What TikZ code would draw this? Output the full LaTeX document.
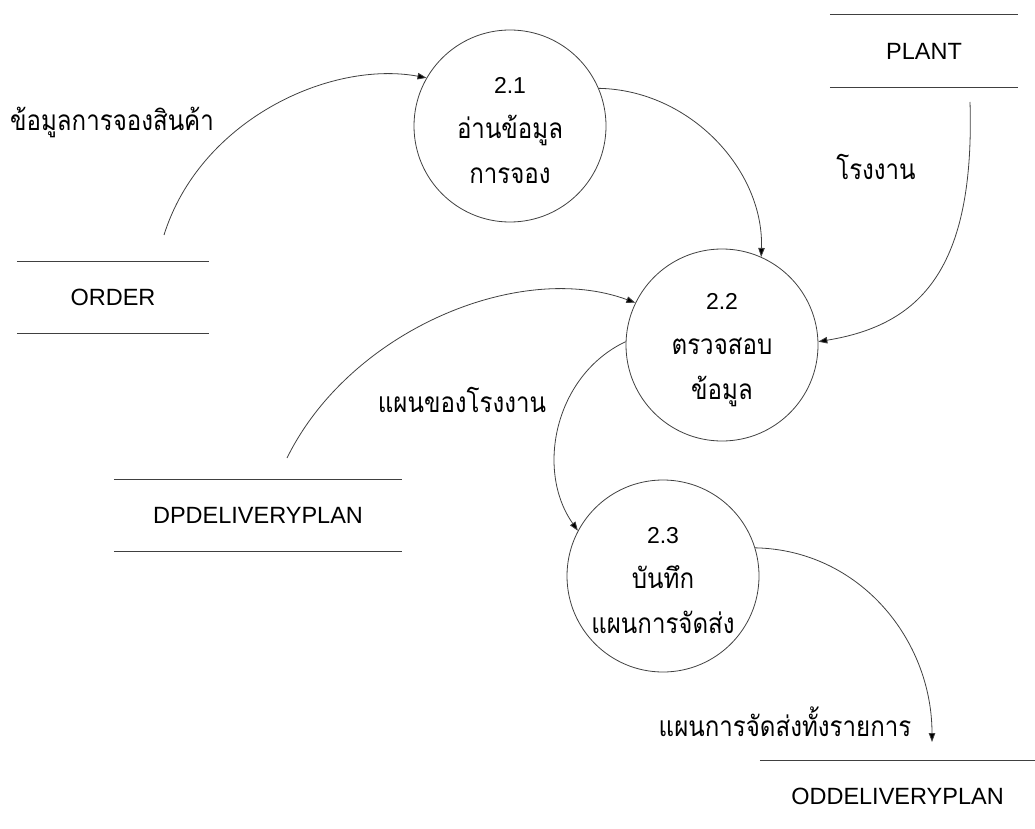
\documentclass[tikz,border=0pt]{standalone}
\usepackage{fontspec}
\usepackage{graphicx}
\setmainfont{Liberation Sans}
\newfontfamily\thai[Script=Thai]{Loma}
\usetikzlibrary{arrows.meta}
% Thai text, set a little narrower than the font's natural width
\newcommand\thtext[1]{\scalebox{0.86}[1]{\thai\fontsize{28}{32}\selectfont #1}}

\begin{document}
\begin{tikzpicture}[x=1pt,y=-1pt,
  flow/.style={draw=black!75, line width=0.8pt, -{Triangle[length=9pt,width=6.5pt,fill=black]}},
  proc/.style={circle, draw=black!75, line width=0.8pt, minimum size=192pt,
    inner sep=0pt, align=center, font=\fontsize{23}{45}\selectfont},
  store/.style={minimum height=72pt, inner sep=0pt, font=\fontsize{23.5}{28}\selectfont},
  storeline/.style={draw=black!75, line width=0.8pt},
  lbl/.style={inner sep=0pt},
]
\useasboundingbox (0,0) rectangle (1035,829);
\clip (0,0) rectangle (1035,829);

% processes
\node[proc] (p1) at (510,126) {\rule{0pt}{26pt}2.1\\\thtext{อ่านข้อมูล}\\\thtext{การจอง}};
\node[proc] (p2) at (722,345) {\rule{0pt}{26pt}2.2\\\thtext{ตรวจสอบ}\\\thtext{ข้อมูล}};
\node[proc] (p3) at (663,576) {\rule{0pt}{26pt}2.3\\\thtext{บันทึก}\\\thtext{แผนการจัดส่ง}};

% data stores
\node[store, minimum width=192pt] (order) at (113,297.5) {ORDER};
\node[store, minimum width=188pt] (plant) at (924,51) {PLANT};
\node[store, minimum width=288pt] (dp) at (258,515.5) {DPDELIVERYPLAN};
\node[store, minimum width=275pt] (od) at (897.5,796.5) {ODDELIVERYPLAN};
\foreach \s in {order,plant,dp,od}{
  \draw[storeline] (\s.north west) -- (\s.north east);
  \draw[storeline] (\s.south west) -- (\s.south east);
}

% flow end points next to the stores
\coordinate (orderout) at (164,235);
\coordinate (plantout) at (970,102);
\coordinate (dpout) at (287,458);
\coordinate (odin) at (932,742);

% data flows
\draw[flow] (orderout) .. controls (200,120) and (330,60) .. (p1.150);
\draw[flow] (p1.23) .. controls (690,90) and (764,170) .. (p2.66);
\draw[flow] (plantout) .. controls (975,270) and (920,325) .. (p2.2);
\draw[flow] (dpout) .. controls (350,330) and (520,260) .. (p2.154);
\draw[flow] (p2.178) .. controls (555,375) and (535,470) .. (p3.152);
\draw[flow] (p3.17) .. controls (860,550) and (932,640) .. (odin);

% flow labels
\node[lbl] (l1) at (112,122) {\thtext{ข้อมูลการจองสินค้า}};
\node[lbl] (l2) at (876,167) {\thtext{โรงงาน}};
\node[lbl] (l3) at (462,400) {\thtext{แผนของโรงงาน}};
\node[lbl] (l4) at (785,722) {\thtext{แผนการจัดส่งทั้งรายการ}};
\end{tikzpicture}
\end{document}
